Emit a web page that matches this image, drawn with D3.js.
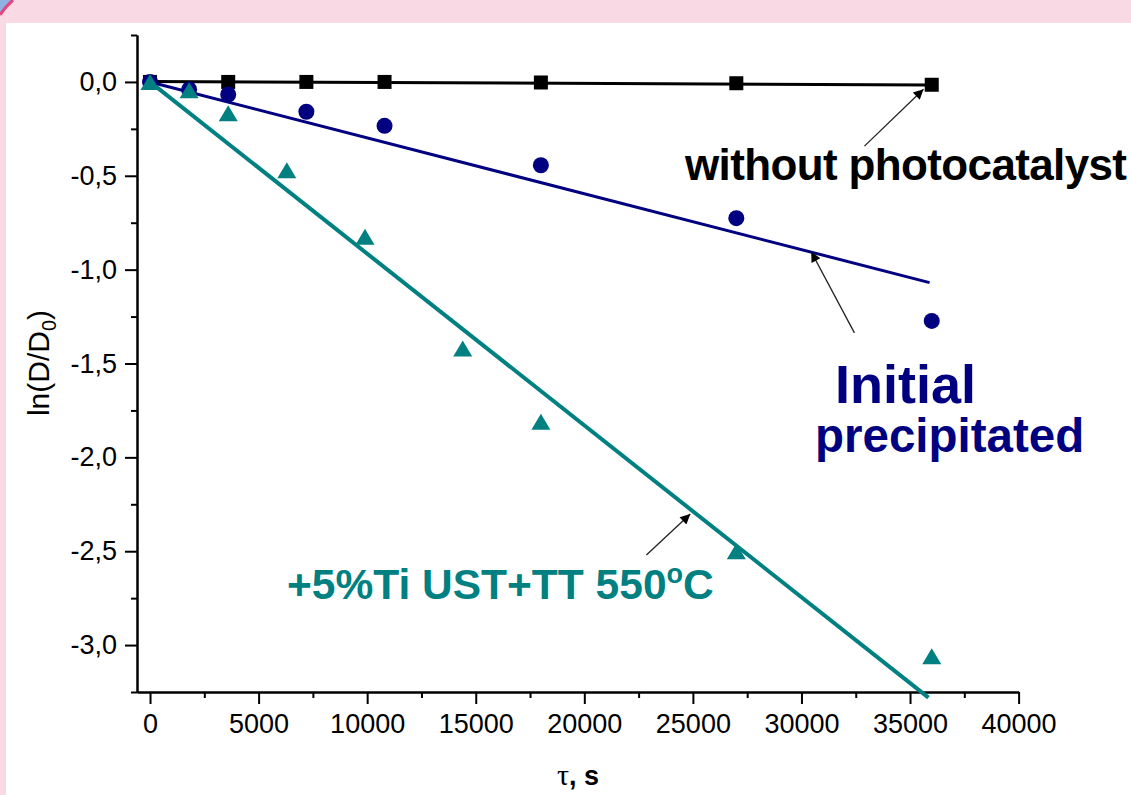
<!DOCTYPE html>
<html>
<head>
<meta charset="utf-8">
<script src="https://cdn.jsdelivr.net/npm/d3@7"></script>
<style>
    body { margin: 0; background: #f9d9e3; }
    svg { display: block; font-family: "Liberation Sans", Arial, sans-serif; }
    .axis path, .axis line { stroke: #000; stroke-width: 2; }
    .axis text { font-size: 27px; fill: #000; }
    .note { font-weight: bold; }
    .pointer { stroke: #222; stroke-width: 1.3; }
</style>
</head>
<body>
<svg id="chart" width="1131" height="795"></svg>
<script>
const timeNo = [0, 3600, 7200, 10800, 18000, 27000, 36000];
const lnNo = [0, 0, 0, 0, -0.003, -0.007, -0.015];

const timeInit = [0, 1800, 3600, 7200, 10800, 18000, 27000, 36000];
const lnInit = [0, -0.04, -0.067, -0.159, -0.234, -0.444, -0.726, -1.273];

const timeTi = [0, 1800, 3600, 6300, 9900, 14400, 18000, 27000, 36000];
const lnTi = [0, -0.044, -0.167, -0.47, -0.825, -1.42, -1.81, -2.50, -3.06];

// linear fits, start and end points [time, ln]
const fitNo = [[0, 0.002], [35900, -0.016]];
const fitInit = [[0, 0], [35900, -1.069]];
const fitTi = [[0, 0], [35850, -3.28]];

// tick labels
const xTicks = [0, 5000, 10000, 15000, 20000, 25000, 30000, 35000, 40000];
const xMinor = [2500, 7500, 12500, 17500, 22500, 27500, 32500, 37500];
const yTicks = [0, -0.5, -1, -1.5, -2, -2.5, -3];
const yMinor = [0.25, -0.25, -0.75, -1.25, -1.75, -2.25, -2.75, -3.25];

// annotation arrows, tail -> tip in data coords
const arrowNo = [[32900, -0.342], [35620, -0.039]];
const arrowInit = [[32440, -1.337], [30450, -0.905]];
const arrowTi = [[22860, -2.52], [24880, -2.302]];

const svg = d3.select("#chart");

// slide background and white panel
svg.append("rect").attr("width", 1131).attr("height", 795).attr("fill", "#f9d9e3");
svg.append("path")
    .attr("d", "M0,0 L0,15 A70,70 0 0 1 13,0 Z")
    .attr("fill", "#8fb1e3");
svg.append("path")
    .attr("d", "M0,15 A70,70 0 0 1 13,0")
    .attr("fill", "none").attr("stroke", "#e2477f").attr("stroke-width", 3);
svg.append("rect").attr("x", 6).attr("y", 23).attr("width", 1125).attr("height", 772).attr("fill", "#fff");

const x = d3.scaleLinear().domain([-600, 40000]).range([137, 1018.6]);
const y = d3.scaleLinear().domain([-3.25, 0.25]).range([692, 35]);

const comma = v => v.toFixed(1).replace(".", ",");

// axes
let g = svg.append("g");

g.append("g").attr("class", "axis")
    .attr("transform", "translate(0,692)")
    .call(d3.axisBottom(x).tickValues(xMinor).tickSize(6).tickSizeOuter(0).tickFormat(""));
g.append("g").attr("class", "axis")
    .attr("transform", "translate(0,692)")
    .call(d3.axisBottom(x).tickValues(xTicks).tickSize(12).tickSizeOuter(0).tickPadding(10).tickFormat(d3.format("d")));

g.append("g").attr("class", "axis")
    .attr("transform", "translate(137,0)")
    .call(d3.axisLeft(y).tickValues(yMinor).tickSize(6).tickSizeOuter(0).tickFormat(""));
g.append("g").attr("class", "axis")
    .attr("transform", "translate(137,0)")
    .call(d3.axisLeft(y).tickValues(yTicks).tickSize(12).tickSizeOuter(0).tickPadding(8).tickFormat(comma));

svg.selectAll(".axis text").attr("font-family", "Liberation Sans, Arial, sans-serif");

// axis titles
let yTitle = svg.append("text")
    .attr("transform", "translate(49,363) rotate(-90)")
    .attr("text-anchor", "middle")
    .attr("font-size", 30);
yTitle.append("tspan").text("ln(D/D");
yTitle.append("tspan").attr("font-size", 20).attr("dy", 7).text("0");
yTitle.append("tspan").attr("dy", -7).text(")");

let xTitle = svg.append("text")
    .attr("x", 578).attr("y", 785)
    .attr("text-anchor", "middle")
    .attr("font-size", 27);
xTitle.append("tspan").attr("font-family", "Liberation Serif, Times New Roman, serif").attr("font-size", 30).text("τ");
xTitle.append("tspan").attr("font-weight", "bold").text(", s");

// fit lines
const line = d3.line().x(d => x(d[0])).y(d => y(d[1]));

svg.append("path").datum(fitNo).attr("d", line)
    .attr("fill", "none").attr("stroke", "#000").attr("stroke-width", 3);
svg.append("path").datum(fitInit).attr("d", line)
    .attr("fill", "none").attr("stroke", "#000080").attr("stroke-width", 3);
svg.append("path").datum(fitTi).attr("d", line)
    .attr("fill", "none").attr("stroke", "#008080").attr("stroke-width", 4);

// markers
svg.append("g").selectAll("rect")
    .data(timeNo)
    .enter()
    .append("rect")
    .attr("x", (d, i) => x(d) - 7)
    .attr("y", (d, i) => y(lnNo[i]) - 7)
    .attr("width", 14).attr("height", 14)
    .attr("fill", "#000");

svg.append("g").selectAll("circle")
    .data(timeInit)
    .enter()
    .append("circle")
    .attr("cx", d => x(d))
    .attr("cy", (d, i) => y(lnInit[i]))
    .attr("r", 8)
    .attr("fill", "#000080");

svg.append("g").selectAll("path")
    .data(timeTi)
    .enter()
    .append("path")
    .attr("d", (d, i) => {
        let cx = x(d), cy = y(lnTi[i]);
        return "M" + (cx - 9.5) + "," + (cy + 8) + "L" + (cx + 9.5) + "," + (cy + 8) + "L" + cx + "," + (cy - 8) + "Z";
    })
    .attr("fill", "#008080");

// arrows for the annotations
svg.append("defs").append("marker")
    .attr("id", "head")
    .attr("viewBox", "0 0 10 10")
    .attr("refX", 10).attr("refY", 5)
    .attr("markerWidth", 15).attr("markerHeight", 10)
    .attr("markerUnits", "userSpaceOnUse")
    .attr("orient", "auto")
    .append("path").attr("d", "M0,0 L10,5 L0,10 Z").attr("fill", "#000");

[arrowNo, arrowInit, arrowTi].forEach(a => {
    svg.append("line")
        .attr("class", "pointer")
        .attr("x1", x(a[0][0])).attr("y1", y(a[0][1]))
        .attr("x2", x(a[1][0])).attr("y2", y(a[1][1]))
        .attr("marker-end", "url(#head)");
});

// curve labels
svg.append("text").attr("class", "note")
    .attr("x", 685).attr("y", 180)
    .attr("font-size", 44).attr("fill", "#000")
    .attr("textLength", 442).attr("lengthAdjust", "spacing")
    .text("without photocatalyst");

svg.append("text").attr("class", "note")
    .attr("x", 835).attr("y", 403)
    .attr("font-size", 54).attr("fill", "#000080")
    .text("Initial");
svg.append("text").attr("class", "note")
    .attr("x", 815).attr("y", 452)
    .attr("font-size", 47.5).attr("fill", "#000080")
    .text("precipitated");

let tiLabel = svg.append("text").attr("class", "note")
    .attr("x", 287).attr("y", 599)
    .attr("font-size", 42.5).attr("fill", "#008080");
tiLabel.append("tspan").text("+5%Ti UST+TT 550");
tiLabel.append("tspan").attr("font-size", 27).attr("dy", -16).text("o");
tiLabel.append("tspan").attr("dy", 16).text("C");
</script>
</body>
</html>
